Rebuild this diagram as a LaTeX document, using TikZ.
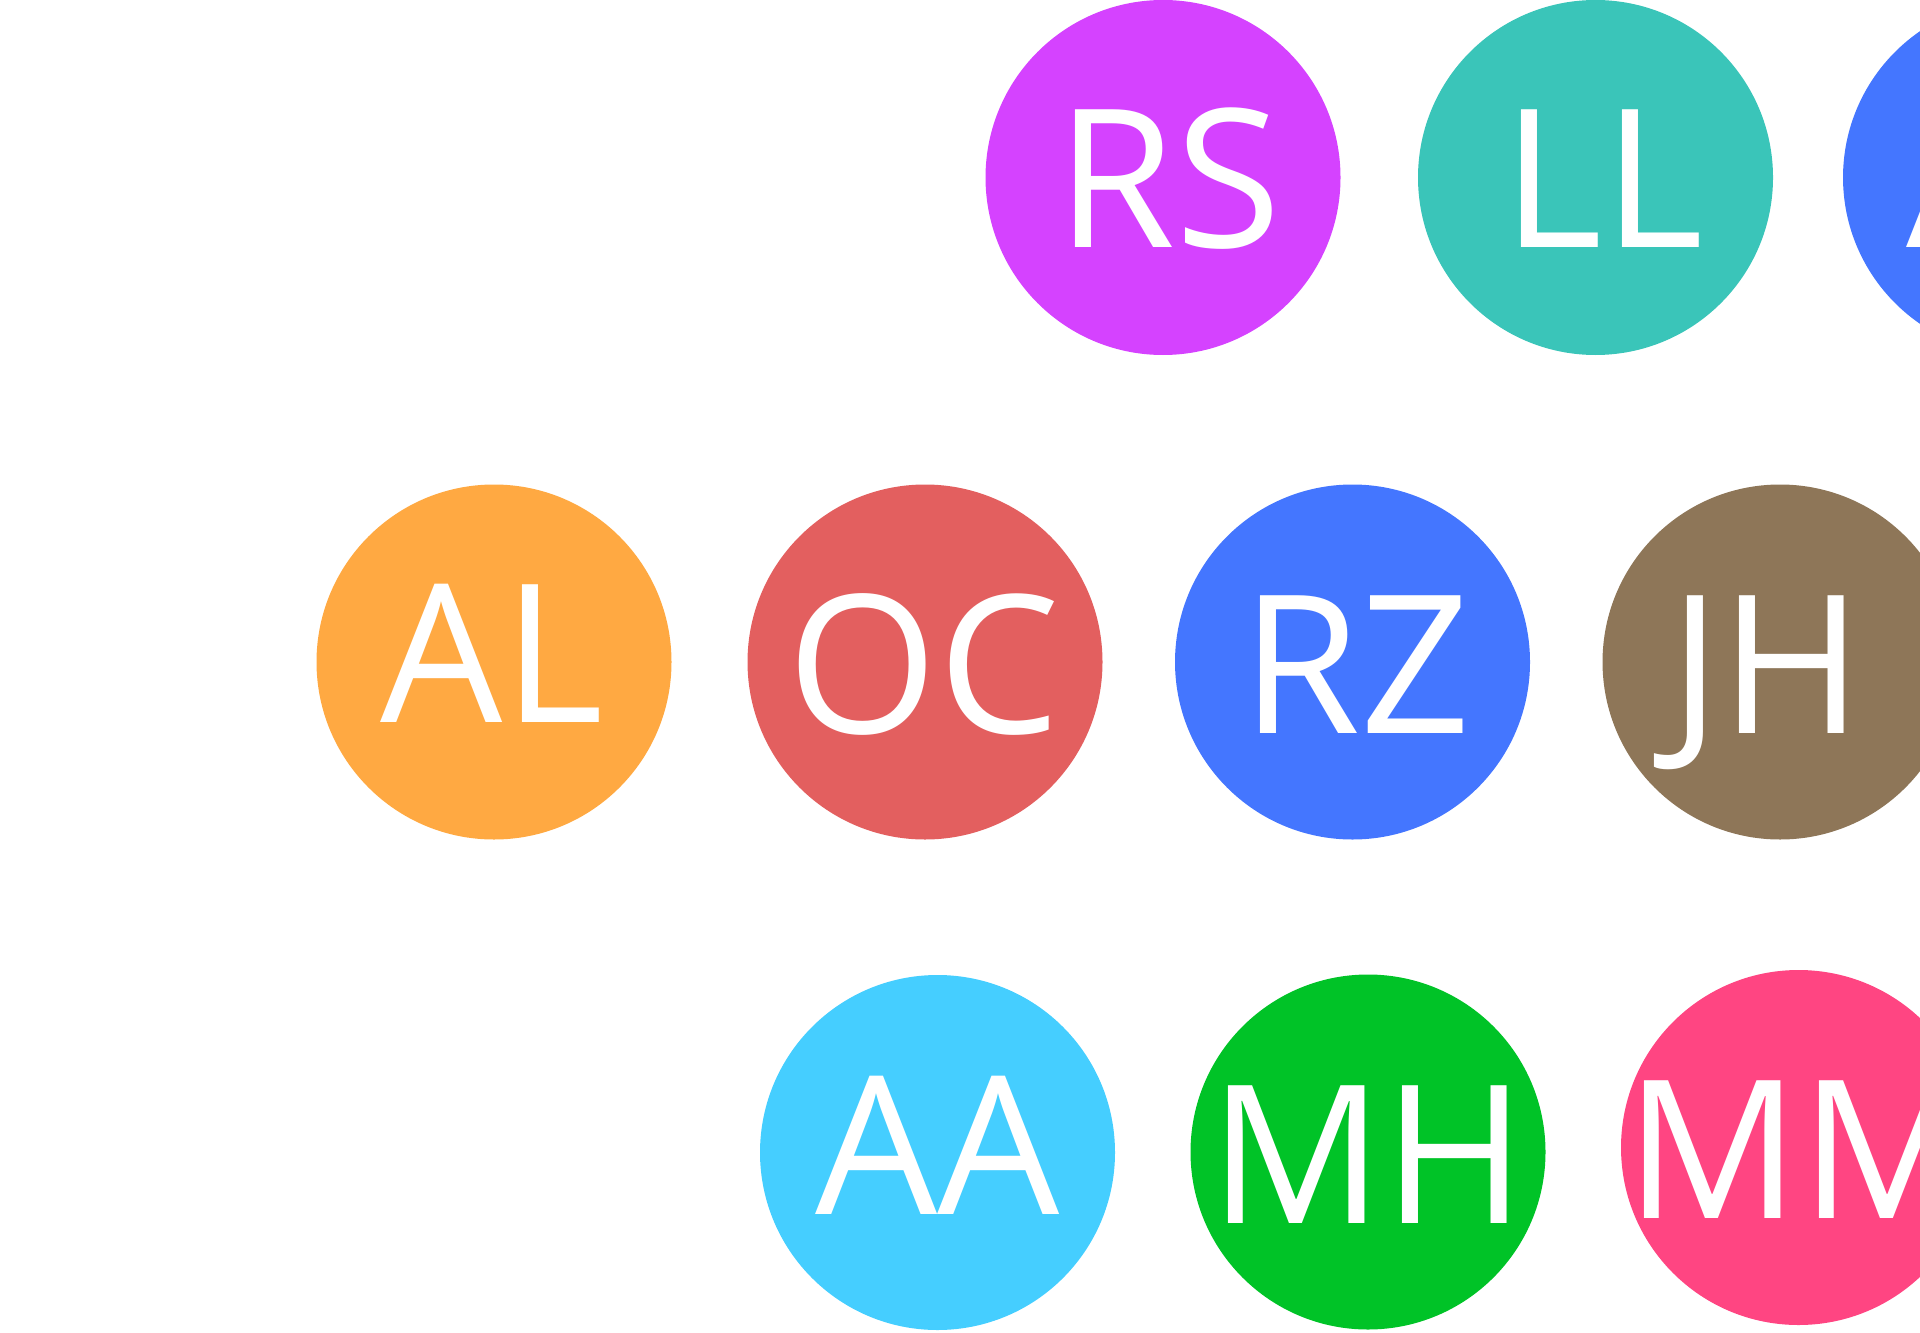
\documentclass[tikz,border=0pt]{standalone}
\usepackage{fontspec}
\setmainfont{Open Sans}
\definecolor{cMag}{HTML}{D542FF}
\definecolor{cTeal}{HTML}{3AC5B9}
\definecolor{cBlue}{HTML}{4476FF}
\definecolor{cOrange}{HTML}{FFA942}
\definecolor{cRed}{HTML}{E35F5F}
\definecolor{cBrown}{HTML}{8E7658}
\definecolor{cSky}{HTML}{45CEFF}
\definecolor{cGreen}{HTML}{00C327}
\definecolor{cPink}{HTML}{FF4582}
\tikzset{
  avatar/.style={circle, draw=none, inner sep=0pt, minimum size=177.5pt},
  initials/.style={text=white, inner sep=0pt, anchor=base, font=\fontsize{96.5pt}{110pt}\selectfont}
}
\begin{document}
\begin{tikzpicture}[x=0.5pt, y=-0.5pt]
\useasboundingbox (0,0) rectangle (1920,1332);
\clip (0,0) rectangle (1920,1332);
% row 1
\node[avatar, fill=cMag]  (rs) at (1163,177.5) {};
\node[avatar, fill=cTeal] (ll) at (1595.5,177.5) {};
\node[avatar, fill=cBlue] (ab) at (2020.5,177.5) {};
\node[initials] (rsT) at (1169,248) {RS};
\node[initials] (llT) at (1603,248) {LL};
\node[initials, anchor=base west] (abT) at (1906,248) {A};
% row 2
\node[avatar, fill=cOrange] (al) at (494,662) {};
\node[avatar, fill=cRed]    (oc) at (925,662) {};
\node[avatar, fill=cBlue]   (rz) at (1352.5,662) {};
\node[avatar, fill=cBrown]  (jh) at (1780,662) {};
\node[initials] (alT) at (492,722) {AL};
\node[initials] (ocT) at (924,733) {OC};
\node[initials] (rzT) at (1356,733) {RZ};
\node[initials] (jhT) at (1766,733) {JH};
% row 3
\node[avatar, fill=cSky]   (aa) at (937.5,1152.5) {};
\node[avatar, fill=cGreen] (mh) at (1368,1152) {};
\node[avatar, fill=cPink]  (mm) at (1798.5,1147.5) {};
\node[initials] (aaT) at (937.5,1214) {AA};
\node[initials] (mhT) at (1367.5,1223) {MH};
\node[initials] (mmT) at (1800,1218) {MM};
\end{tikzpicture}
\end{document}
